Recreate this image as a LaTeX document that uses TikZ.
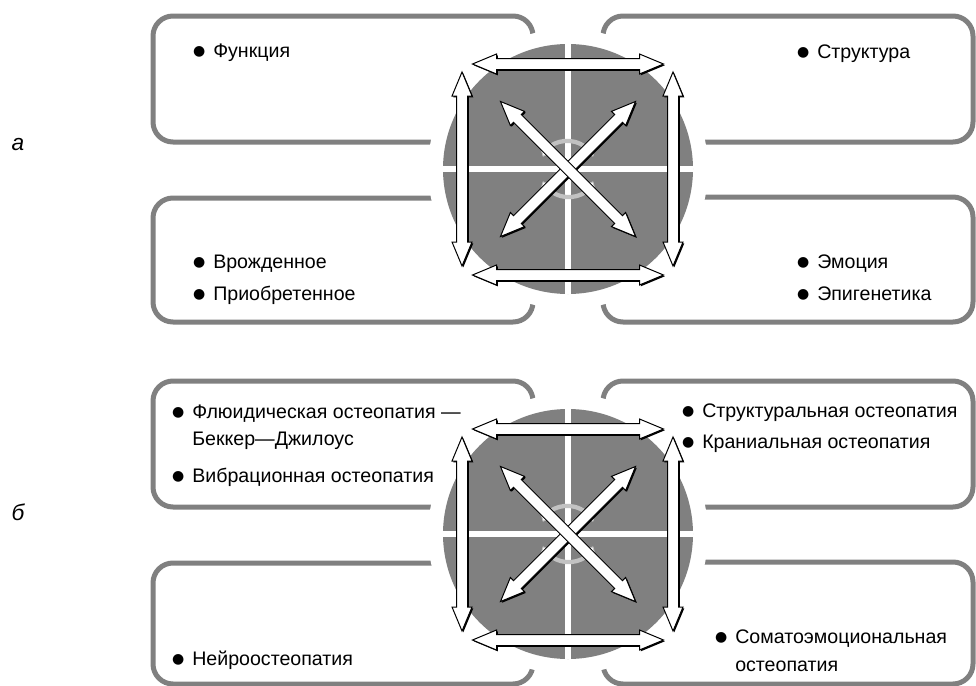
\documentclass[tikz,border=0pt]{standalone}
\usepackage{fontspec}
\setmainfont{Liberation Sans}
\newfontfamily\symfont{DejaVu Sans}
\usetikzlibrary{arrows.meta}
\definecolor{boxgray}{gray}{0.5}
\definecolor{discgray}{gray}{0.5}
\definecolor{arcgray}{gray}{0.76}
\newcommand{\bul}{\makebox[14.25pt][l]{\hspace{-0.8pt}\raisebox{1.0pt}[0pt][0pt]{\fontsize{10.5pt}{10.5pt}\symfont ●}}}
\newcommand{\dblarrow}[3]{%
  \begin{scope}[shift={(#1)}, shift={(1.3,1.3)}, rotate=#2]
    \fill[black] (-#3,0) -- (-#3+24,-10) -- (-#3+24,-5.5) -- (#3-24,-5.5) -- (#3-24,-10) -- (#3,0)
      -- (#3-24,10) -- (#3-24,5.5) -- (-#3+24,5.5) -- (-#3+24,10) -- cycle;
  \end{scope}
  \begin{scope}[shift={(#1)}, rotate=#2]
    \draw[arrowbody] (-#3,0) -- (-#3+24,-10) -- (-#3+24,-5.5) -- (#3-24,-5.5) -- (#3-24,-10) -- (#3,0)
      -- (#3-24,10) -- (#3-24,5.5) -- (-#3+24,5.5) -- (-#3+24,10) -- cycle;
  \end{scope}}
\newcommand{\hub}[1]{%
  \fill[white] (#1) circle[radius=140];
  \fill[discgray] (#1) circle[radius=125];
  \begin{scope}[shift={(#1)}]
    \draw[white, line width=4.8pt] (-125,0) -- (125,0);
    \draw[white, line width=4.8pt] (0,-125) -- (0,125);
    \draw[centerarc] (206:28) arc[start angle=206, end angle=334, radius=28];
    \draw[centerarc] (26:28) arc[start angle=26, end angle=154, radius=28];
    \coordinate (#1top) at (0,-105);
    \coordinate (#1bot) at (0,106);
    \coordinate (#1left) at (-106,0);
    \coordinate (#1right) at (105,0);
  \end{scope}
  \dblarrow{#1top}{0}{95.5}
  \dblarrow{#1bot}{0}{95.5}
  \dblarrow{#1left}{90}{97}
  \dblarrow{#1right}{90}{97}
  \dblarrow{#1}{45}{95.5}
  \dblarrow{#1}{-45}{95.5}}
\begin{document}
\begin{tikzpicture}[x=0.75pt, y=-0.75pt,
  panel/.style={draw=boxgray, line width=3.75pt, rounded corners=15pt},
  arrowbody/.style={draw=black, fill=white, line width=0.75pt, line join=miter},
  centerarc/.style={draw=arcgray, line width=3.2pt,
    {Triangle[open, length=4pt, width=7pt, fill=white, line width=0.6pt]}-{Triangle[open, length=4pt, width=7pt, fill=white, line width=0.6pt]}},
  item/.style={anchor=base west, inner sep=0pt, font=\fontsize{14.7pt}{17pt}\selectfont},
  lab/.style={anchor=base, inner sep=0pt, font=\fontsize{17pt}{20pt}\selectfont\itshape}]
\useasboundingbox (0,0) rectangle (976,686);
\fill[white] (0,0) rectangle (976,686);
% panel a boxes
\draw[panel] (153,16) rectangle (533,142);
\draw[panel] (603,16) rectangle (973,142);
\draw[panel] (153,198) rectangle (533,322);
\draw[panel] (603,197) rectangle (973,322);
% panel b boxes
\draw[panel] (153,381) rectangle (533,507);
\draw[panel] (603,381) rectangle (973,507);
\draw[panel] (153,563) rectangle (533,684);
\draw[panel] (603,562) rectangle (973,684);
% hubs
\coordinate (cA) at (568,169);
\coordinate (cB) at (568,534);
\hub{cA}
\hub{cB}
% labels
\node[lab] (la) at (18,150) {а};
\node[lab] (lb) at (18,520) {б};
% panel a texts
\node[item] (ta1) at (194,57) {\bul Функция};
\node[item] (ta2) at (798,58) {\bul Структура};
\node[item] (ta3) at (194,268) {\bul Врожденное};
\node[item] (ta4) at (194,300) {\bul Приобретенное};
\node[item] (ta5) at (798,268) {\bul Эмоция};
\node[item] (ta6) at (798,300) {\bul Эпигенетика};
% panel b texts
\node[item] (tb1) at (173,418) {\bul Флюидическая остеопатия —};
\node[item] (tb1b) at (192,445) {Беккер—Джилоус};
\node[item] (tb2) at (173,482) {\bul Вибрационная остеопатия};
\node[item] (tb3) at (683,417) {\bul Структуральная остеопатия};
\node[item] (tb4) at (683,448) {\bul Краниальная остеопатия};
\node[item] (tb5) at (173,665) {\bul Нейроостеопатия};
\node[item] (tb6) at (716,643) {\bul Соматоэмоциональная};
\node[item] (tb6b) at (735,671) {остеопатия};
\end{tikzpicture}
\end{document}
